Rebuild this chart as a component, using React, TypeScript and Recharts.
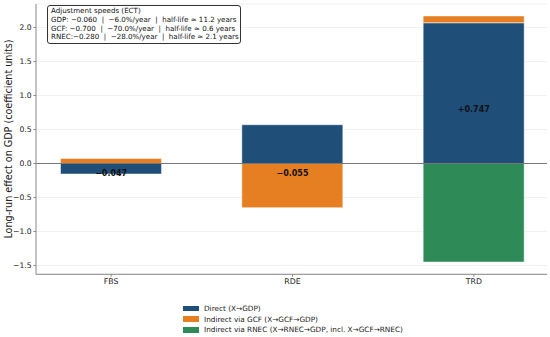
import { ComposedChart, Bar, Line, XAxis, YAxis, CartesianGrid, ReferenceLine, Legend } from 'recharts';

const categories = ['FBS', 'RDE', 'TRD'];
const direct = [-0.155, 0.57, 2.07];
const viaGcf = [0.075, -0.65, 0.1];
const viaRnec = [0, 0, -1.45];
const totals = [-0.047, -0.055, 0.747];
const yTicks = [-1.5, -1.0, -0.5, 0.0, 0.5, 1.0, 1.5, 2.0];

const seriesNames = ['Direct (X→GDP)', 'Indirect via GCF (X→GCF→GDP)', 'Indirect via RNEC (X→RNEC→GDP, incl. X→GCF→RNEC)'];
const seriesColors = ['#1f4e79', '#e67e22', '#2e8b57'];

const ectLines = [
  'Adjustment speeds (ECT)',
  'GDP: −0.060  |  −6.0%/year  |  half-life ≈ 11.2 years',
  'GCF: −0.700  |  −70.0%/year  |  half-life ≈ 0.6 years',
  'RNEC:−0.280  |  −28.0%/year  |  half-life ≈ 2.1 years',
];

const data = categories.map((name, i) => ({
  name,
  direct: direct[i],
  gcf: viaGcf[i],
  rnec: viaRnec[i],
  total: totals[i],
}));

const font = 'DejaVu Sans, sans-serif';
const fmt = (v: number) => (v < 0 ? '−' + Math.abs(v).toFixed(1) : v.toFixed(1));
const fmtTotal = (v: number) => (v < 0 ? '−' + Math.abs(v).toFixed(3) : '+' + v.toFixed(3));

const TotalLabel = (props: any) => {
  const { x, y, value } = props;
  const pos = value >= 0;
  return (
    <text x={x} y={pos ? y - 1 : y + 9} textAnchor="middle" fontFamily={font} fontSize={8} fontWeight="bold" fill="#111">
      {fmtTotal(value)}
    </text>
  );
};

const LegendBox = () => (
  <div style={{ fontFamily: font, fontSize: 7.3, color: '#222' }}>
    {seriesNames.map((n, i) => (
      <div key={n} style={{ display: 'flex', alignItems: 'center', height: 10.8 }}>
        <span style={{ display: 'inline-block', width: 16, height: 5.5, background: seriesColors[i], marginRight: 5 }} />
        {n}
      </div>
    ))}
  </div>
);

export default function App() {
  return (
    <div style={{ position: 'absolute', left: 0, top: 0, width: 550, height: 337, background: '#fff' }}>
      <ComposedChart width={550} height={337} data={data} stackOffset="sign" margin={{ top: 4, right: 3, bottom: 42, left: 0 }}>
        <CartesianGrid horizontal vertical={false} stroke="#ededed" strokeWidth={0.8} />
        <XAxis
          dataKey="name"
          padding={{ left: -15.5, right: -17.5 }}
          height={20.7}
          tick={{ fontFamily: font, fontSize: 7.8, fill: '#222' }}
          tickSize={2.5}
          stroke="#888"
          tickLine={{ stroke: '#888' }}
        />
        <YAxis
          width={36}
          domain={[-1.63, 2.346]}
          allowDataOverflow
          ticks={yTicks}
          tickFormatter={fmt}
          tick={{ fontFamily: font, fontSize: 7.6, fill: '#222' }}
          tickSize={2.5}
          stroke="#888"
          label={{
            content: () => (
              <text x={12} y={139} transform="rotate(-90 12 139)" textAnchor="middle" fontFamily={font} fontSize={9.6} fill="#222">
                Long-run effect on GDP (coefficient units)
              </text>
            ),
          }}
        />
        <Bar dataKey="direct" stackId="a" name={seriesNames[0]} fill={seriesColors[0]} stroke="#fff" strokeWidth={0.5} barSize={101} isAnimationActive={false} />
        <Bar dataKey="gcf" stackId="a" name={seriesNames[1]} fill={seriesColors[1]} stroke="#fff" strokeWidth={0.5} barSize={101} isAnimationActive={false} />
        <Bar dataKey="rnec" stackId="a" name={seriesNames[2]} fill={seriesColors[2]} stroke="#fff" strokeWidth={0.5} barSize={101} isAnimationActive={false} />
        <ReferenceLine y={0} stroke="#777" strokeWidth={1.1} />
        <Line dataKey="total" stroke="none" dot={false} activeDot={false} legendType="none" isAnimationActive={false} label={<TotalLabel />} />
        <Legend
          layout="vertical"
          align="center"
          verticalAlign="middle"
          content={<LegendBox />}
          wrapperStyle={{ position: 'absolute', left: 183, top: 303, width: 260 }}
        />
      </ComposedChart>
      <div
        style={{
          position: 'absolute',
          left: 47,
          top: 5,
          width: 186,
          padding: '1px 3px 1px 3px',
          border: '1px solid #333',
          borderRadius: 3,
          background: '#fff',
          fontFamily: font,
          fontSize: 7.1,
          lineHeight: '8.8px',
          color: '#111',
          whiteSpace: 'pre',
        }}
      >
        {ectLines.join('\n')}
      </div>
    </div>
  );
}
